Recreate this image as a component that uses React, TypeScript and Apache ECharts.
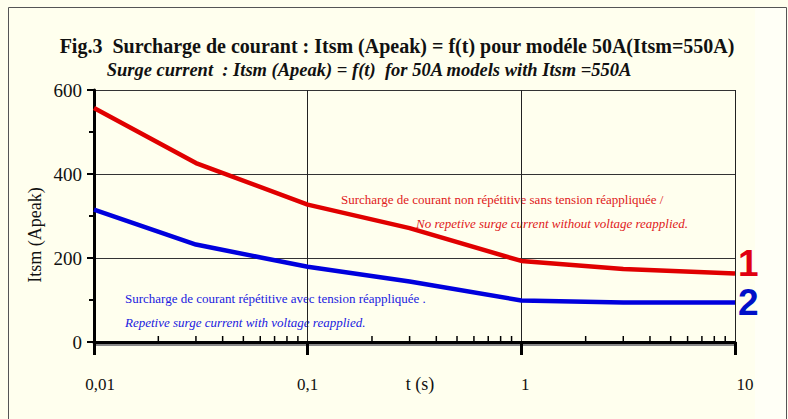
import React, { useEffect, useRef } from "react";
import * as echarts from "echarts";

// ---- data ----
const timeSeconds = [0.01, 0.03, 0.1, 0.3, 1, 3, 10];
const surgeNonRepetitive = [557, 426, 327, 271, 193, 174, 163];
const surgeRepetitive = [315, 232, 179, 144, 99, 94, 94];
const xTickLabels = ["0,01", "0,1", "1", "10"];
const xMinorTicks = [
  0.02, 0.03, 0.04, 0.05, 0.06, 0.07, 0.08, 0.09,
  0.2, 0.3, 0.4, 0.5, 0.6, 0.7, 0.8, 0.9,
  2, 3, 4, 5, 6, 7, 8, 9,
];
const yMin = 0;
const yMax = 600;
const yInterval = 200;

const titleLine1 = "Fig.3  Surcharge de courant : Itsm (Apeak) = f(t) pour modéle 50A(Itsm=550A)";
const titleLine2 = "Surge current  : Itsm (Apeak) = f(t)  for 50A models with Itsm =550A";
const noteRed1 = "Surcharge de courant non répétitive sans tension réappliquée /";
const noteRed2 = "No repetive surge current without voltage reapplied.";
const noteBlue1 = "Surcharge de courant répétitive avec tension réappliquée .";
const noteBlue2 = "Repetive surge current with voltage reapplied.";
const yName = "Itsm (Apeak)";
const xName = "t (s)";

const SERIF = "Liberation Serif";

export default function App() {
  const ref = useRef<HTMLDivElement>(null);

  useEffect(() => {
    if (!ref.current) return;
    const chart = echarts.init(ref.current, undefined, { renderer: "svg" });

    const labelKeys = ["a", "b", "c", "d"];
    const option: any = {
      animation: false,
      backgroundColor: "#ffffee",
      grid: { left: 94, right: 53, top: 90, bottom: 77, containLabel: false, outerBoundsMode: "none" },
      xAxis: [
        {
          type: "log",
          logBase: 10,
          min: 0.01,
          max: 10,
          position: "bottom",
          axisLine: { show: true, onZero: false, lineStyle: { color: "#000", width: 3 } },
          axisTick: { show: true, length: 13, lineStyle: { color: "#000", width: 3 } },
          splitLine: { show: true, lineStyle: { color: "#222", width: 1 } },
          axisLabel: {
            margin: 33,
            formatter: (v: number) => {
              const k = Math.round(Math.log10(v)) + 2;
              return "{" + labelKeys[k] + "|" + xTickLabels[k] + "}";
            },
            rich: {
              a: { fontSize: 17, fontFamily: SERIF, color: "#111", lineHeight: 18, padding: [0, 0, 0, 12] },
              b: { fontSize: 17, fontFamily: SERIF, color: "#111", lineHeight: 18 },
              c: { fontSize: 17, fontFamily: SERIF, color: "#111", lineHeight: 18, padding: [0, 0, 0, 8] },
              d: { fontSize: 17, fontFamily: SERIF, color: "#111", lineHeight: 18, padding: [0, 0, 0, 20] },
            },
          },
        },
        {
          type: "log",
          logBase: 10,
          min: 0.01,
          max: 10,
          position: "bottom",
          offset: 2.5,
          axisLine: { show: true, onZero: false, lineStyle: { color: "#888", width: 2 } },
          axisTick: { show: false },
          axisLabel: { show: false },
          splitLine: { show: false },
        },
      ],
      yAxis: {
        type: "value",
        min: yMin,
        max: yMax,
        interval: yInterval,
        axisLine: { show: true, onZero: false, lineStyle: { color: "#000", width: 3 } },
        axisTick: { show: true, length: 7, lineStyle: { color: "#000", width: 2 } },
        minorTick: { show: true, splitNumber: 2, length: 5, lineStyle: { color: "#000", width: 2 } },
        splitLine: { show: true, lineStyle: { color: "#333", width: 1 } },
        axisLabel: {
          margin: 12,
          fontSize: 19,
          fontFamily: SERIF,
          color: "#111",
          padding: [12, 0, 0, 0],
        },
      },
      series: [
        {
          type: "line",
          name: "1",
          data: timeSeconds.map((t, i) => [t, surgeNonRepetitive[i]]),
          symbol: "none",
          clip: false,
          z: 4,
          lineStyle: { color: "#e00000", width: 4.5 },
          endLabel: {
            show: true,
            formatter: "1",
            color: "#e00010",
            fontSize: 37,
            fontWeight: "bold",
            fontFamily: "Liberation Sans",
            distance: 3,
            offset: [0, -10],
          },
        },
        {
          type: "line",
          name: "2",
          data: timeSeconds.map((t, i) => [t, surgeRepetitive[i]]),
          symbol: "none",
          clip: false,
          z: 4,
          lineStyle: { color: "#0000dd", width: 4.5 },
          endLabel: {
            show: true,
            formatter: "2",
            color: "#0010c8",
            fontSize: 37,
            fontWeight: "bold",
            fontFamily: "Liberation Sans",
            distance: 3,
            offset: [0, 0],
          },
        },
        {
          type: "custom",
          coordinateSystem: "cartesian2d",
          xAxisIndex: 0,
          yAxisIndex: 0,
          silent: true,
          clip: false,
          z: 5,
          data: xMinorTicks.map((t) => [t, yMin]),
          renderItem: (_params: any, api: any) => {
            const p = api.coord([api.value(0), yMin]);
            return {
              type: "line",
              shape: { x1: p[0], y1: p[1] - 1, x2: p[0], y2: p[1] - 6 },
              style: { stroke: "#000", lineWidth: 1.5 },
            };
          },
        },
      ],
      graphic: [
        {
          type: "rect",
          z: 0,
          shape: { x: 755, y: 8, width: 31, height: 411 },
          style: { fill: "#fffff6" },
          silent: true,
        },
        {
          type: "rect",
          z: 1,
          shape: { x: 8.5, y: 7.5, width: 778, height: 420 },
          style: { fill: "rgba(0,0,0,0)", stroke: "#555", lineWidth: 1 },
          silent: true,
        },
        {
          type: "text",
          x: 397,
          y: 46,
          style: {
            text: titleLine1,
            fill: "#111",
            fontSize: 20,
            fontWeight: "bold",
            fontFamily: SERIF,
            align: "center",
            verticalAlign: "middle",
          },
        },
        {
          type: "text",
          x: 369,
          y: 70,
          style: {
            text: titleLine2,
            fill: "#111",
            fontSize: 18.5,
            fontWeight: "bold",
            fontStyle: "italic",
            fontFamily: SERIF,
            align: "center",
            verticalAlign: "middle",
          },
        },
        {
          type: "text",
          x: 35,
          y: 235,
          rotation: Math.PI / 2,
          style: {
            text: yName,
            fill: "#111",
            fontSize: 18,
            fontFamily: SERIF,
            align: "center",
            verticalAlign: "middle",
          },
        },
        {
          type: "text",
          x: 420,
          y: 384,
          style: {
            text: xName,
            fill: "#111",
            fontSize: 18,
            fontFamily: SERIF,
            align: "center",
            verticalAlign: "middle",
          },
        },
        {
          type: "text",
          x: 341,
          y: 199,
          style: { text: noteRed1, fill: "#e02020", fontSize: 13, fontFamily: SERIF, align: "left", verticalAlign: "middle" },
        },
        {
          type: "text",
          x: 416,
          y: 223,
          style: { text: noteRed2, fill: "#e02020", fontSize: 13, fontStyle: "italic", fontFamily: SERIF, align: "left", verticalAlign: "middle" },
        },
        {
          type: "text",
          x: 125,
          y: 298,
          style: { text: noteBlue1, fill: "#2020e0", fontSize: 13, fontFamily: SERIF, align: "left", verticalAlign: "middle" },
        },
        {
          type: "text",
          x: 125,
          y: 322,
          style: { text: noteBlue2, fill: "#2020e0", fontSize: 13, fontStyle: "italic", fontFamily: SERIF, align: "left", verticalAlign: "middle" },
        },
      ],
    };

    chart.setOption(option);
    return () => {
      chart.dispose();
    };
  }, []);

  return (
    <div
      ref={ref}
      style={{ position: "fixed", left: 0, top: 0, width: 788, height: 419 }}
    />
  );
}
